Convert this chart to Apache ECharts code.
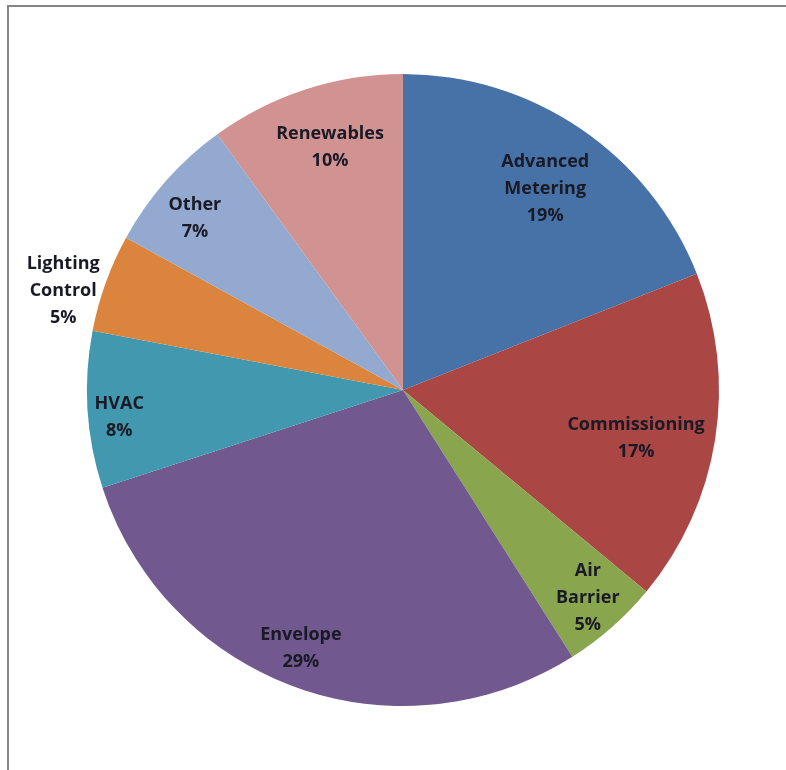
<!DOCTYPE html>
<html>
<head>
<meta charset="utf-8">
<script src="https://cdn.jsdelivr.net/npm/echarts@6/dist/echarts.min.js"></script>
<style>
  html, body { margin: 0; padding: 0; background: #ffffff; }
  #chart { width: 786px; height: 770px; }
</style>
</head>
<body>
<div id="chart"></div>
<script>
// Share of projects by measure type (percent)
const categories = ['Advanced\nMetering', 'Commissioning', 'Air\nBarrier', 'Envelope', 'HVAC', 'Lighting\nControl', 'Other', 'Renewables'];
const shares = [19, 17, 5, 29, 8, 5, 7, 10];

// Slice colours, how far out (fraction of the radius) each label sits,
// and a small pixel nudge for each label after radial placement
const sliceColors = ['#4672a8', '#aa4644', '#89a54e', '#71588f', '#4198af', '#db843d', '#93a9cf', '#d19392'];
const labelRadiusFraction = [0.78, 0.75, 0.87, 0.87, 0.90, 1.12, 0.86, 0.82];
const labelNudge = [[2, 5], [-4, 11], [1, -1], [-8, -3], [3, 9], [-4, 22], [-2, 10], [8, 7]];

const CENTER = [403, 390];
const RADIUS = 316;

const total = shares.reduce((a, b) => a + b, 0);
let acc = 0;
const pieData = categories.map((name, i) => {
  const mid = (acc + shares[i] / 2) / total * 2 * Math.PI; // clockwise from 12 o'clock
  acc += shares[i];
  const shift = (labelRadiusFraction[i] - 0.5) * RADIUS;
  return {
    name: name,
    value: shares[i],
    itemStyle: { color: sliceColors[i] },
    label: {
      offset: [shift * Math.sin(mid) + labelNudge[i][0], -shift * Math.cos(mid) + labelNudge[i][1]]
    }
  };
});

const chart = echarts.init(document.getElementById('chart'), null, { renderer: 'canvas' });
chart.setOption({
  backgroundColor: '#ffffff',
  animation: false,
  graphic: [{
    type: 'rect',
    shape: { x: 8, y: 6, width: 900, height: 900 },
    style: { fill: 'none', stroke: '#858585', lineWidth: 2 },
    silent: true
  }],
  series: [{
    type: 'pie',
    center: CENTER,
    radius: [0, RADIUS],
    startAngle: 90,
    clockwise: true,
    avoidLabelOverlap: false,
    itemStyle: { borderWidth: 0 },
    label: {
      show: true,
      position: 'inside',
      formatter: p => p.name + '\n' + p.value + '%',
      fontFamily: '"Open Sans", sans-serif',
      fontWeight: 'bold',
      fontSize: 18,
      lineHeight: 27,
      color: '#1a1a26',
      align: 'center'
    },
    labelLine: { show: false },
    emphasis: { disabled: true },
    data: pieData
  }]
});
</script>
</body>
</html>
